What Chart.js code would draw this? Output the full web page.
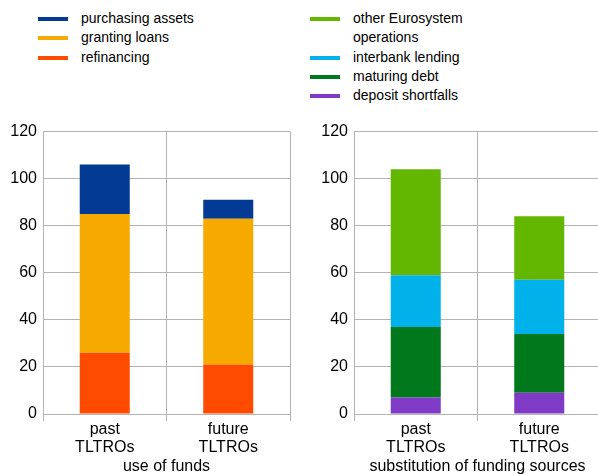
<!DOCTYPE html>
<html>
<head>
<meta charset="utf-8">
<script src="https://cdn.jsdelivr.net/npm/chart.js@4/dist/chart.umd.min.js"></script>
<style>
  body { margin: 0; width: 598px; height: 474px; overflow: hidden; position: relative; background: #fff;
         font-family: "Liberation Sans", Arial, sans-serif; }
  .legend { position: absolute; top: 9px; font-size: 14px; line-height: 19.3px; color: #000; }
  .legend div { display: flex; align-items: flex-start; }
  .legend i { display: inline-block; width: 30px; height: 4px; margin-top: 8px; margin-right: 13px; flex: none; }
  .legend span { max-width: 122px; }
  #legendLeft { left: 38px; }
  #legendRight { left: 310px; }
  .box { position: absolute; top: 116px; }
  #boxLeft { left: 0; }
  #boxRight { left: 310px; }
</style>
</head>
<body>
<div class="legend" id="legendLeft"></div>
<div class="legend" id="legendRight"></div>
<div class="box" id="boxLeft"><canvas id="chartLeft" width="298" height="360"></canvas></div>
<div class="box" id="boxRight"><canvas id="chartRight" width="291" height="360"></canvas></div>
<script>
// data
const categories = [['past', 'TLTROs'], ['future', 'TLTROs']];

// use of funds (bottom to top)
const refinancing = [26, 21];
const grantingLoans = [59, 62];
const purchasingAssets = [21, 8];

// substitution of funding sources (bottom to top)
const depositShortfalls = [7, 9];
const maturingDebt = [30, 25];
const interbankLending = [22, 23];
const otherEurosystem = [45, 27];

const yMin = 0, yMax = 120, yStep = 20;

const leftSeries = [
  {label: 'refinancing', data: refinancing, color: '#ff4b00'},
  {label: 'granting loans', data: grantingLoans, color: '#f6aa00'},
  {label: 'purchasing assets', data: purchasingAssets, color: '#023a94'}
];
const rightSeries = [
  {label: 'deposit shortfalls', data: depositShortfalls, color: '#7f3bc5'},
  {label: 'maturing debt', data: maturingDebt, color: '#00781b'},
  {label: 'interbank lending', data: interbankLending, color: '#00b1ea'},
  {label: 'other Eurosystem operations', data: otherEurosystem, color: '#63b700'}
];

function buildLegend(el, series) {
  // legend lists the top of the stack first
  series.slice().reverse().forEach(s => {
    const row = document.createElement('div');
    const mark = document.createElement('i');
    mark.style.background = s.color;
    const txt = document.createElement('span');
    txt.textContent = s.label;
    row.appendChild(mark);
    row.appendChild(txt);
    el.appendChild(row);
  });
}
buildLegend(document.getElementById('legendLeft'), leftSeries);
buildLegend(document.getElementById('legendRight'), rightSeries);

const gridColor = '#b3b3b3';
const font16 = {family: '"Liberation Sans", Arial, sans-serif', size: 16};

function makeChart(canvasId, series, title, yWidth, padRight) {
  return new Chart(document.getElementById(canvasId), {
    type: 'bar',
    data: {
      labels: categories,
      datasets: series.map(s => ({
        label: s.label,
        data: s.data,
        backgroundColor: s.color,
        borderWidth: 0,
        categoryPercentage: 1,
        barPercentage: 0.405
      }))
    },
    options: {
      responsive: false,
      animation: false,
      layout: {padding: {top: 4, right: padRight, left: 0, bottom: 0}},
      plugins: {legend: {display: false}, tooltip: {enabled: false}},
      scales: {
        x: {
          stacked: true,
          grid: {color: gridColor, offset: true, tickLength: 7},
          border: {color: gridColor},
          ticks: {color: '#000', font: {...font16, lineHeight: '18px'}, padding: 0, maxRotation: 0},
          title: {display: true, text: title, color: '#000', font: {...font16, lineHeight: '18px'}, padding: 0},
          afterFit: s => { s.height = 62; }
        },
        y: {
          stacked: true,
          min: yMin,
          max: yMax,
          ticks: {stepSize: yStep, color: '#000', font: font16, padding: 6},
          grid: {color: gridColor, drawTicks: false},
          border: {color: gridColor},
          afterFit: s => { s.width = yWidth; }
        }
      }
    }
  });
}

makeChart('chartLeft', leftSeries, 'use of funds', 43, 8);
makeChart('chartRight', rightSeries, 'substitution of funding sources', 44, 0);
</script>
</body>
</html>
